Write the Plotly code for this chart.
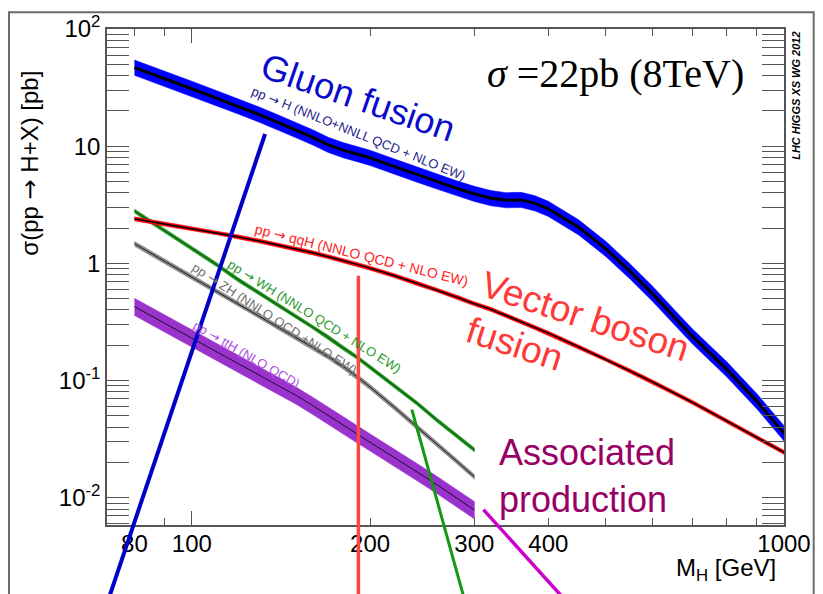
import math
import plotly.graph_objects as go

# ---------------- data ----------------
mass_ggH = [80, 90, 100, 110, 120, 130, 140, 150, 160, 170, 180, 190, 200, 220, 240, 260, 280,
            300, 320, 340, 360, 380, 400, 450, 500, 550, 600, 650, 700, 800, 900, 1000]
xs_ggH = [46.8, 37.8, 30.9, 25.7, 21.8, 18.6, 15.9, 13.7, 11.9, 10.25, 9.25, 8.58, 7.95, 6.70,
          5.73, 4.98, 4.37, 3.92, 3.60, 3.46, 3.48, 3.25, 2.92, 2.03, 1.33, 0.85, 0.549, 0.355,
          0.239, 0.125, 0.0666, 0.0355]

mass_VBF = mass_ggH
xs_VBF = [2.40, 2.16, 1.98, 1.83, 1.68, 1.55, 1.43, 1.33, 1.23, 1.14, 1.06, 0.98, 0.91, 0.785,
          0.675, 0.59, 0.515, 0.452, 0.405, 0.357, 0.3165, 0.2826, 0.2538, 0.1937, 0.152, 0.1204,
          0.0973, 0.079, 0.0652, 0.0452, 0.0327, 0.0244]

mass_VH = [80, 90, 100, 110, 120, 130, 140, 150, 160, 170, 180, 190, 200, 220, 240, 260, 280, 300]
xs_WH = [2.80, 1.90, 1.34, 0.98, 0.72, 0.556, 0.44, 0.353, 0.287, 0.234, 0.190, 0.158, 0.130,
         0.090, 0.064, 0.0455, 0.0337, 0.0256]
xs_ZH = [1.47, 1.042, 0.766, 0.581, 0.450, 0.356, 0.287, 0.2346, 0.192, 0.160, 0.132, 0.108,
         0.0880, 0.0588, 0.0404, 0.0284, 0.0205, 0.0151]
mass_ttH = mass_VH
xs_ttH = [0.427, 0.307, 0.2286, 0.1756, 0.138, 0.1108, 0.0902, 0.0746, 0.0611, 0.0507, 0.0418,
          0.0350, 0.0298, 0.0221, 0.0166, 0.0128, 0.0100, 0.00785]

# relative uncertainty band half-widths (up, down)
unc_ggH = (0.16, 0.14)
unc_VBF = (0.04, 0.04)
unc_WH = (0.04, 0.04)
unc_ZH = (0.05, 0.05)
unc_ttH = (0.18, 0.16)

x_tick_vals = [80, 100, 200, 300, 400, 1000]
x_tick_text = ["80", "100", "200", "300", "400", "1000"]
x_minor_vals = [90, 500, 600, 700, 800, 900]
x_long_vals = [100, 1000]
y_tick_vals = [0.01, 0.1, 1, 10, 100]
y_tick_text = ["10<sup>-2</sup>", "10<sup>-1</sup>", "1", "10", "10<sup>2</sup>"]
y_minor_vals = [m * 10 ** e for e in range(-3, 2) for m in range(2, 10) if 0.0058 < m * 10 ** e < 100]

# ---------------- geometry helpers ----------------
W, H = 823, 594
L, R, T, B = 107, 791, 21, 525


def px(x):
    return (x - L) / (R - L)


def py(y):
    return (B - y) / (B - T)


FONT = "Liberation Sans, Arial, Helvetica, sans-serif"
ARROW = '<span style="font-family:DejaVu Sans">→</span>'

fig = go.Figure()


def band(mass, xs, unc, fill, line_color, line_w):
    up = [v * (1 + unc[0]) for v in xs]
    dn = [v * (1 - unc[1]) for v in xs]
    fig.add_trace(go.Scatter(x=list(mass) + list(mass)[::-1], y=up + dn[::-1], fill="toself",
                             fillcolor=fill, mode="lines", line=dict(width=0.5, color=fill),
                             hoverinfo="skip", showlegend=False))
    fig.add_trace(go.Scatter(x=mass, y=xs, mode="lines", line=dict(color=line_color, width=line_w),
                             hoverinfo="skip", showlegend=False))


band(mass_ttH, xs_ttH, unc_ttH, "#9933cc", "black", 0.8)
band(mass_VH, xs_ZH, unc_ZH, "#8c8c8c", "black", 0.8)
band(mass_VH, xs_WH, unc_WH, "#229922", "#145f14", 1.2)
band(mass_VBF, xs_VBF, unc_VBF, "#ff0000", "black", 1.5)
band(mass_ggH, xs_ggH, unc_ggH, "#0000ff", "black", 3)

# invisible trace for the overlay axis carrying the long ticks
fig.add_trace(go.Scatter(x=[100], y=[1], xaxis="x2", mode="markers", marker=dict(opacity=0),
                         hoverinfo="skip", showlegend=False))

AX = "#555555"
xrange = [math.log10(71.9), 3.0]
yrange = [-2.233, 2.0]

fig.update_layout(
    width=W, height=H,
    margin=dict(l=L, r=W - R, t=T, b=H - B),
    paper_bgcolor="white", plot_bgcolor="white",
    font=dict(family=FONT, color="black"),
    xaxis=dict(type="log", range=xrange, tickmode="array", tickvals=x_tick_vals,
               ticktext=x_tick_text, ticks="inside", ticklen=7, tickwidth=1.2, tickcolor=AX,
               mirror="allticks", showline=True, linecolor=AX, linewidth=1.5, showgrid=False,
               zeroline=False, tickfont=dict(size=24, family=FONT), ticklabelstandoff=-4,
               minor=dict(tickmode="array", tickvals=x_minor_vals, ticks="inside", ticklen=7,
                          tickwidth=1.2, tickcolor=AX, showgrid=False)),
    xaxis2=dict(type="log", range=xrange, overlaying="x", anchor="y", side="bottom",
                tickmode="array", tickvals=x_long_vals, ticks="inside", ticklen=14,
                tickwidth=1.2, tickcolor=AX, mirror="ticks", showline=True, linecolor=AX,
                linewidth=1.5, showticklabels=False, showgrid=False, zeroline=False),
    yaxis=dict(type="log", range=yrange, tickmode="array", tickvals=y_tick_vals,
               ticktext=y_tick_text, ticks="inside", ticklen=22, tickwidth=1.2, tickcolor=AX,
               mirror="allticks", showline=True, linecolor=AX, linewidth=1.5, showgrid=False,
               zeroline=False, tickfont=dict(size=24, family=FONT),
               minor=dict(tickmode="array", tickvals=y_minor_vals, ticks="inside", ticklen=11,
                          tickwidth=1.2, tickcolor=AX, showgrid=False)),
)

# ---------------- hand-drawn strokes and canvas border ----------------
strokes = [
    (266.7, 127.7, 108.0, 602.0, "#0000c8", 4),
    (361.0, 271.7, 361.0, 602.0, "#ff4444", 3.5),
    (415.0, 407.7, 468.5, 602.0, "#109a10", 3),
    (487.3, 509.3, 570.5, 602.0, "#cc00cc", 3.5),
]
for x0, y0, x1, y1, c, w in strokes:
    fig.add_shape(type="line", xref="paper", yref="paper", x0=px(x0), y0=py(y0), x1=px(x1),
                  y1=py(y1), line=dict(color=c, width=w))

fig.add_shape(type="rect", xref="paper", yref="paper", x0=px(8), x1=px(821), y0=py(4), y1=py(610),
              line=dict(color="#6a6a6a", width=2))

# ---------------- texts ----------------
texts = [
    ("Gluon fusion", 361, 91, 19, 36, "#0a0acc"),
    ("pp " + ARROW + " H (NNLO+NNLL QCD + NLO EW)", 361, 127, 22, 13, "#22228a"),
    ("pp " + ARROW + " qqH (NNLO QCD + NLO EW)", 364, 251, 14, 14, "#ff2222"),
    ("pp " + ARROW + " WH (NNLO QCD + NLO EW)", 317, 313, 32, 13, "#2a9a2a"),
    ("pp " + ARROW + " ZH (NNLO QCD +NLO EW)", 276, 315, 33, 13, "#707070"),
    ("pp " + ARROW + " ttH (NLO QCD)", 248, 352, 30, 13, "#b050e0"),
    ("Vector boson<br>fusion", 583, 336, 18, 37, "#ff3838"),
]
for t, x, y, ang, sz, col in texts:
    fig.add_annotation(text=t, x=px(x), y=py(y), xref="paper", yref="paper", showarrow=False,
                       textangle=ang, font=dict(size=sz, color=col, family=FONT), align="left",
                       xanchor="center", yanchor="middle")

fig.add_annotation(text="Associated<br>production", x=px(501), y=py(475), xref="paper",
                   yref="paper", showarrow=False, align="left", xanchor="left", yanchor="middle",
                   font=dict(size=36, color="#990066", family=FONT))
fig.add_annotation(text="<i>σ</i> =22pb (8TeV)", x=px(621), y=py(66), xref="paper", yref="paper",
                   showarrow=False, xanchor="center", yanchor="middle",
                   font=dict(size=40, color="black", family="Liberation Serif, Times New Roman, serif"))
fig.add_annotation(text="<b><i>LHC HIGGS XS WG 2012</i></b>", x=px(803), y=py(89), xref="paper",
                   yref="paper", showarrow=False, textangle=-90, xanchor="center", yanchor="middle",
                   font=dict(size=11, color="black", family=FONT))
fig.add_annotation(text="σ(pp " + ARROW + " H+X) [pb]", x=px(29), y=py(157), xref="paper",
                   yref="paper", showarrow=False, textangle=-90, xanchor="center",
                   yanchor="middle", font=dict(size=24, color="black", family=FONT))
fig.add_annotation(text="M<sub>H</sub> [GeV]", x=px(785), y=py(570), xref="paper", yref="paper",
                   showarrow=False, xanchor="right", yanchor="middle",
                   font=dict(size=24, color="black", family=FONT))

fig.write_html("out.html", config={"displayModeBar": False},
               post_script="document.body.style.margin='0';document.body.style.overflow='hidden';")
